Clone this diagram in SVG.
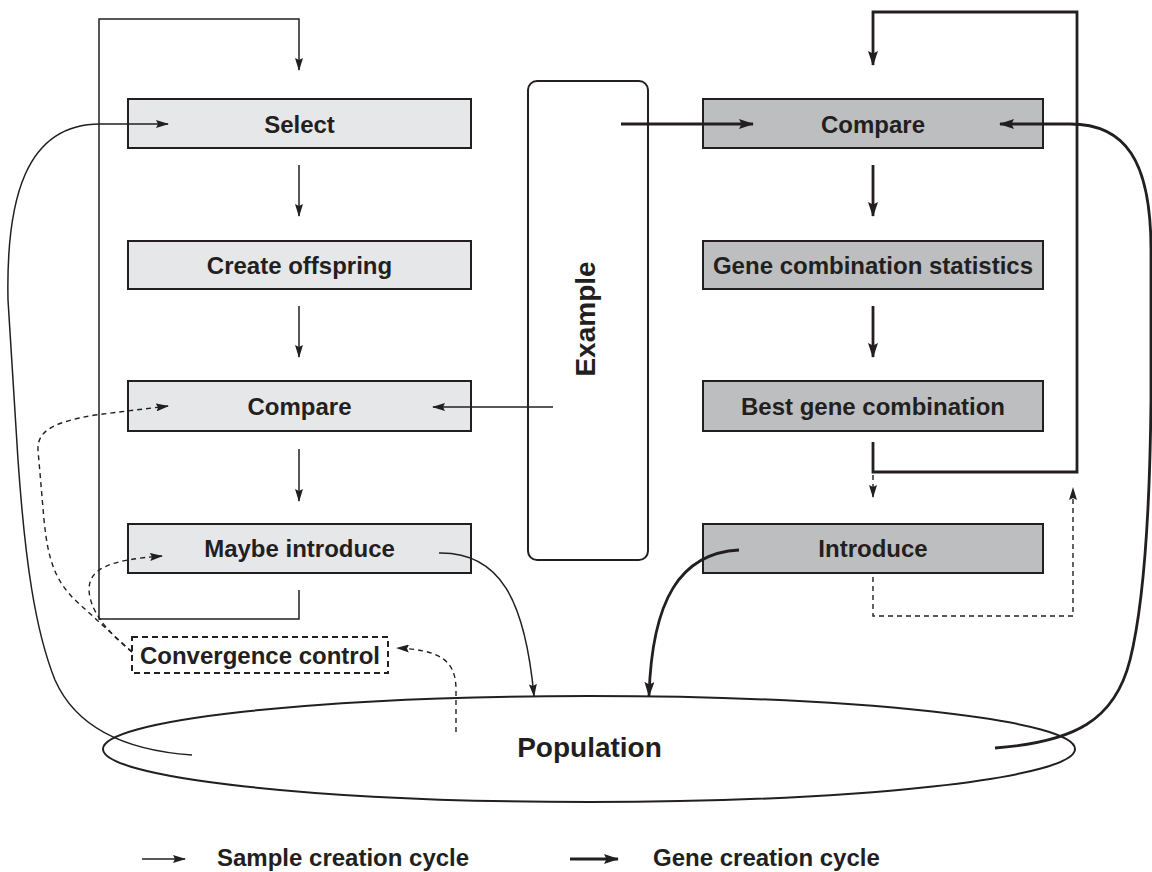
<svg xmlns="http://www.w3.org/2000/svg" width="1152" height="872" viewBox="0 0 1152 872">
<style>
.lb{fill:#e6e7e8;stroke:#231f20;stroke-width:2}
.db{fill:#bcbec0;stroke:#231f20;stroke-width:2}
.t{font-family:"Liberation Sans",Arial,sans-serif;font-weight:bold;font-size:24px;fill:#231f20;text-anchor:middle}
.big{font-size:28px}
.st{text-anchor:start}
.thin{fill:none;stroke:#231f20;stroke-width:1.5}
.thick{fill:none;stroke:#231f20;stroke-width:2.8}
.dash{fill:none;stroke:#231f20;stroke-width:1.4;stroke-dasharray:5 4}
</style>
<defs>
<marker id="a" viewBox="0 0 13 8" refX="12" refY="4" markerWidth="13" markerHeight="8" orient="auto" markerUnits="userSpaceOnUse"><path d="M0,0 L13,4 L0,8 L2,4 z" fill="#231f20"/></marker>
<marker id="b" viewBox="0 0 15 10" refX="14" refY="5" markerWidth="15" markerHeight="10" orient="auto" markerUnits="userSpaceOnUse"><path d="M0,0 L15,5 L0,10 L2.5,5 z" fill="#231f20"/></marker>
</defs>
<rect width="1152" height="872" fill="#fff"/>
<g id="select"><rect class="lb" x="128" y="99" width="343" height="49"/><text class="t" x="299.5" y="132.5">Select</text></g>
<g id="create-offspring"><rect class="lb" x="128" y="241" width="343" height="48"/><text class="t" x="299.5" y="273.5">Create offspring</text></g>
<g id="compare-left"><rect class="lb" x="128" y="381" width="343" height="50"/><text class="t" x="299.5" y="414.5">Compare</text></g>
<g id="maybe-introduce"><rect class="lb" x="128" y="524" width="343" height="49"/><text class="t" x="299.5" y="557">Maybe introduce</text></g>
<g id="example"><rect x="528" y="81" width="120" height="479" rx="9" fill="#fff" stroke="#231f20" stroke-width="2"/><text class="t big" transform="translate(595,319) rotate(-90)">Example</text></g>
<g id="compare-right"><rect class="db" x="703" y="99" width="340" height="49"/><text class="t" x="873" y="132.5">Compare</text></g>
<g id="gene-stats"><rect class="db" x="703" y="241" width="340" height="48"/><text class="t" x="873" y="273.5">Gene combination statistics</text></g>
<g id="best-gene"><rect class="db" x="703" y="381" width="340" height="50"/><text class="t" x="873" y="414.5">Best gene combination</text></g>
<g id="introduce"><rect class="db" x="703" y="524" width="340" height="49"/><text class="t" x="873" y="557">Introduce</text></g>
<g id="convergence-control"><rect x="132" y="637" width="256" height="36" fill="#fff" stroke="#231f20" stroke-width="2" stroke-dasharray="6 4"/><text class="t" x="260" y="664">Convergence control</text></g>
<g id="population"><ellipse cx="589" cy="749" rx="486" ry="53" fill="none" stroke="#231f20" stroke-width="2"/><text class="t big" x="589.5" y="757">Population</text></g>
<g id="connectors">
<path class="thin" d="M299,590 V619 H99 V19 H299 V70" marker-end="url(#a)"/>
<path class="thin" d="M299,165 V216" marker-end="url(#a)"/>
<path class="thin" d="M299,306 V357" marker-end="url(#a)"/>
<path class="thin" d="M299,449 V501" marker-end="url(#a)"/>
<path class="thin" d="M553,407 H433" marker-end="url(#a)"/>
<path class="thin" d="M192,755 C120,750 75,725 55,680 C35,630 25,560 18,460 L8,300 C6,200 25,124 100,124 L168,124" marker-end="url(#a)"/>
<path class="thin" d="M439,553 C500,552 525,600 534,696" marker-end="url(#a)"/>
<path class="dash" d="M132,652 L75,600 C55,580 48,560 44,520 L38,450 C37,430 55,422 95,415 L168,406" marker-end="url(#a)"/>
<path class="dash" d="M132,652 C105,630 90,610 89,590 C89,568 110,560 162,556" marker-end="url(#a)"/>
<path class="dash" d="M456,732 L456,690 C456,660 440,650 397,648" marker-end="url(#a)"/>
<path class="thick" d="M873,442 V472 H1077 V12 H873 V65" marker-end="url(#b)"/>
<path class="thick" d="M873,165 V216" marker-end="url(#b)"/>
<path class="thick" d="M873,306 V357" marker-end="url(#b)"/>
<path class="thick" d="M621,124 H753" marker-end="url(#b)"/>
<path class="thick" d="M995,748 C1075,742 1115,720 1130,660 C1145,600 1150,500 1151,400 L1151,250 C1151,160 1125,124 1070,124 L1000,124" marker-end="url(#b)"/>
<path class="thick" d="M739,550 C680,553 652,600 649,696" marker-end="url(#b)"/>
<path class="dash" d="M873,475 V497" marker-end="url(#a)"/>
<path class="dash" d="M873,577 V616 H1073 V488" marker-end="url(#a)"/>
</g>
<g id="legend">
<path class="thin" d="M142,859 H185" marker-end="url(#a)"/>
<text class="t st" x="217" y="866">Sample creation cycle</text>
<path class="thick" d="M570,859 H618" marker-end="url(#b)"/>
<text class="t st" x="653" y="866">Gene creation cycle</text>
</g>
</svg>
